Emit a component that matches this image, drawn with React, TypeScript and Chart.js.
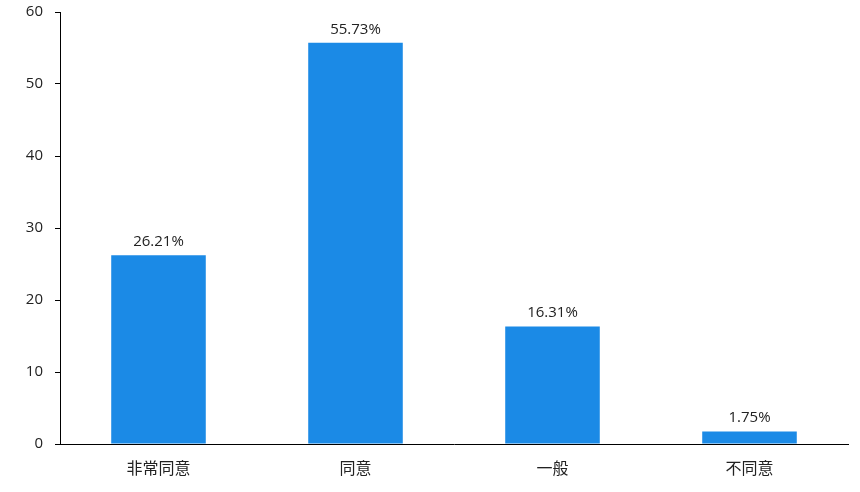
import Chart from "chart.js/auto";
import { useEffect, useRef } from "react";

const categories = ["非常同意", "同意", "一般", "不同意"];
const values = [26.21, 55.73, 16.31, 1.75];
const yTicks = [0, 10, 20, 30, 40, 50, 60];

const FONT = "'Open Sans', 'Noto Sans CJK SC', sans-serif";

const barLabels = {
  id: "barLabels",
  afterDatasetsDraw(chart: any) {
    const ctx = chart.ctx;
    const meta = chart.getDatasetMeta(0);
    ctx.save();
    ctx.font = `15px ${FONT}`;
    ctx.fillStyle = "#222";
    ctx.textAlign = "center";
    ctx.textBaseline = "bottom";
    meta.data.forEach((bar: any, i: number) => {
      ctx.fillText(values[i].toFixed(2) + "%", bar.x, bar.y - 6);
    });
    ctx.restore();
  },
};

export default function App() {
  const ref = useRef<HTMLCanvasElement | null>(null);
  useEffect(() => {
    if (!ref.current) return;
    const chart = new Chart(ref.current, {
      type: "bar",
      data: {
        labels: categories,
        datasets: [
          {
            data: values,
            backgroundColor: "#1b8ae6",
            barPercentage: 0.48,
            categoryPercentage: 1,
          },
        ],
      },
      options: {
        responsive: true,
        maintainAspectRatio: false,
        animation: false,
        layout: { padding: { top: 12, right: 12, left: 0, bottom: 0 } },
        plugins: {
          legend: { display: false },
          tooltip: { enabled: false },
        },
        scales: {
          x: {
            grid: { display: false, drawTicks: false },
            border: { display: true, color: "#000", width: 1 },
            ticks: {
              color: "#222",
              padding: 16,
              font: { family: FONT, size: 16 },
            },
            afterFit: (s: any) => {
              s.height = 48;
              s.paddingLeft = 0;
              s.paddingRight = 0;
            },
          },
          y: {
            min: 0,
            max: 60,
            afterBuildTicks: (s: any) => {
              s.ticks = yTicks.map((v) => ({ value: v }));
            },
            grid: {
              drawOnChartArea: false,
              drawTicks: true,
              tickLength: 5,
              color: "#000",
            },
            border: { display: true, color: "#000", width: 1 },
            ticks: {
              color: "#222",
              padding: 12,
              font: { family: FONT, size: 15 },
            },
            afterFit: (s: any) => {
              s.width = 60;
              s.paddingTop = 0;
              s.paddingBottom = 0;
            },
          },
        },
      },
      plugins: [barLabels],
    });
    return () => chart.destroy();
  }, []);

  return (
    <div
      style={{
        position: "fixed",
        left: 0,
        top: 0,
        width: 860,
        height: 492,
        background: "#fff",
      }}
    >
      <canvas ref={ref}></canvas>
    </div>
  );
}
